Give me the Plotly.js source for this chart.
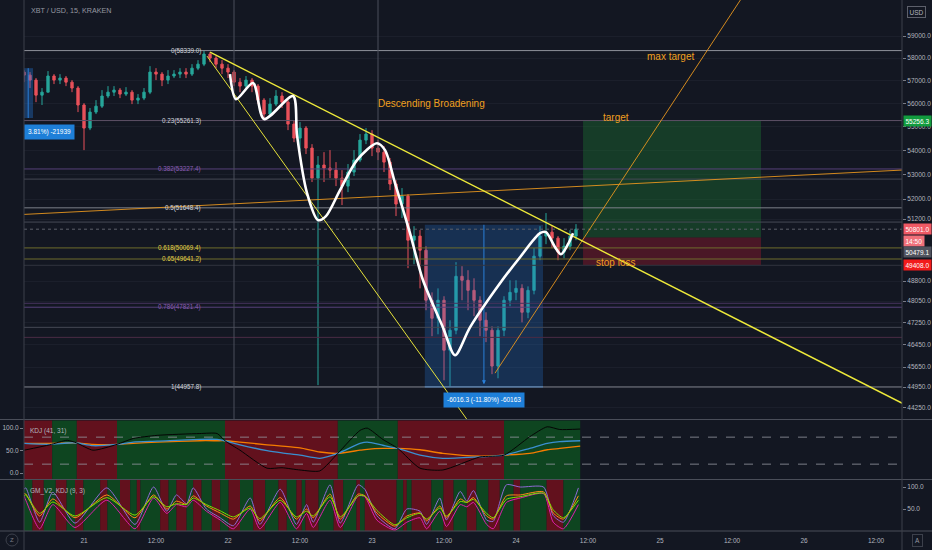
<!DOCTYPE html>
<html><head><meta charset="utf-8">
<script src="https://cdn.plot.ly/plotly-3.0.1.min.js"></script>
<style>html,body{margin:0;padding:0;background:#131722;overflow:hidden}#chart{width:932px;height:550px}</style>
</head><body><div id="chart"></div>
<script>
// ================= DATA =================
// hourly candles, hour offsets relative to Feb 21 00:00 (first candle Feb 20 14:00)
const candleStartHour = -10;
const candleOpen = [57375,57240,57020,56360,56490,57200,57020,57110,56930,56670,
 55930,54940,55625,55880,56320,56490,56580,56405,56490,56143,
 56230,56490,57375,57285,57020,57200,57285,57375,57285,57550,
 57730,58180,58000,57730,57550,57375,56930,56755,57020,56755,
 56143,55540,55970,56320,56055,55110,54515,54940,54095,52850,
 53390,53265,53180,52850,52525,53100,53595,54430,54685,54095,
 53925,53510,52610,51800,52120,50370,50530,49980,48080,47415,
 48080,46255,46975,48980,48830,48450,48080,47340,46975,45690,
 46975,48080,48375,48525,47635,48450,49750,50530,50685,50450,
 49905,50135,50530];
const candleHigh = [57463,57375,57110,56670,57420,57285,57285,57200,57020,56755,
 56010,55800,56143,56580,56755,56755,56670,56710,56580,56405,
 56670,57640,57550,57375,57463,57463,57550,57550,57730,57910,
 58339,58270,58090,57910,57730,57463,57110,57200,57110,56845,
 56230,56230,56580,56490,56143,55280,55195,55025,54260,53760,
 53925,54010,53510,53180,53430,54010,54685,54940,54850,54430,
 54180,53680,52770,52445,52200,50920,50765,50135,48375,48525,
 48230,47340,49520,49365,49212,48905,48230,47635,47120,47120,
 48230,48830,48830,48680,48600,50060,50920,51440,50920,50530,
 50450,50765,51000];
const candleLow = [56930,56670,56055,55930,56490,56845,56845,56755,56490,55625,
 54010,54853,55540,55800,56230,56320,56230,56320,55970,55970,
 56143,56405,57020,56755,56845,57110,57110,57110,57200,57463,
 57640,57820,57550,57285,57110,56755,56490,56580,56490,55970,
 55370,55450,55880,55800,54853,54345,54010,53845,52690,45020,
 52690,52850,52525,51760,52280,52935,53510,54260,53760,53595,
 53100,52363,51320,51240,49290,49440,48525,47710,46760,46830,
 45190,44958,46830,48080,47710,47490,46760,46545,45405,45260,
 46760,47855,48080,47265,47415,48300,49595,50215,50060,49595,
 49670,49980,50370];
const candleClose = [57240,57020,56360,56490,57200,57020,57110,56930,56670,55930,
 54940,55625,55880,56320,56490,56580,56405,56490,56143,56230,
 56490,57375,57285,57020,57200,57285,57375,57285,57550,57730,
 58180,58000,57730,57550,57375,56930,56755,57020,56755,56143,
 55540,55970,56320,56055,55110,54515,54940,54095,52850,53390,
 53265,53180,52850,52525,53100,53595,54430,54685,54095,53925,
 53510,52610,51800,52120,50370,50530,49980,48080,47415,48080,
 46255,46975,48980,48830,48450,48080,47340,46975,45690,46975,
 48080,48375,48525,47635,48450,49750,50530,50685,50450,49905,
 50135,50530,50801];
const candleHours = candleOpen.map((_, i) => candleStartHour + i);

// time axis
const timeTickHours  = [0, 12, 24, 36, 48, 60, 72, 84, 96, 108, 120, 132];
const timeTickLabels = ['21','12:00','22','12:00','23','12:00','24','12:00','25','12:00','26','12:00'];

// price axis
const priceTickVals = [59000,58000,57000,56000,55000,54000,53000,52000,51200,48800,48050,47250,46450,45650,44950,44250];

// fibonacci retracement
const fibRatios = ['0','0.23','0.382','0.5','0.618','0.65','0.786','1'];
const fibPrices = [58339.0, 55261.3, 53227.4, 51648.4, 50069.4, 49641.2, 47821.4, 44957.8];

// other horizontal levels drawn on the chart
const extraLevelPrices = [52811, 51082, 50801.0, 49400, 47967, 47082, 46718];

// trend lines [hourStart, hourEnd], [priceStart, priceEnd]
const upperWedgeHours = [21, 136.5],    upperWedgePrices = [58270, 44380];
const lowerWedgeHours = [20.5, 64.67],  lowerWedgePrices = [58090, 43600];
const flatOrangeHours = [-10.5, 137],   flatOrangePrices = [51380, 53190];
const riseOrangeHours = [68.5, 110],    riseOrangePrices = [45440, 60930];

// hand-drawn white path
const curveHours  = [24.33,25.33,28.17,30,34.83,35.5,37.17,39,40.33,42.67,45.5,48.83,50.17,51.83,54.33,56.5,59.83,61.83,64.33,69.33,72.67,76,77,78.5,79.5,80.67,81.5];
const curvePrices = [57285,56185,56890,55325,56320,54640,52240,51160,51320,52363,53595,54300,54010,52650,50645,48830,47080,46075,47080,48715,49710,50645,50685,50100,49825,50215,50645];

// long position tool
const positionHours = [83.17, 112.83];
const targetPrice = 55256.3, entryPrice = 50479.1, stopPrice = 49408.0, lastPrice = 50801.0;

// measure tool
const measureHours = [56.8, 76.5];
const measureTop = 50974.1, measureBottom = 44957.8;
const measureText = '-6016.3 (-11.80%) -60163';
const leftMeasureHours = [-10.5, -8.5], leftMeasurePrices = [55370, 57550];
const leftMeasureText = '3.81%) -21939';

// vertical marker lines (hours)
const vLineHours = [25, 49];

// KDJ (41, 31)
const kdjHours = [-10,-5.7,-2.8,-1.2,1.5,5.5,8.2,12.2,19.3,22.2,23.5,26,30.5,33,36,39.3,42.3,46,47.2,49.8,52.3,56,59.8,66,70,74.3,77.2,79.3,82.7];
const kdjK = [66,64,67,67,61,64,69,71,75,75,72,63,50,45,40,33,44,66,69,62,55,40,33,36,40,55,66,70,72];
const kdjD = [66,66,67,67,64,64,66,69,72,72,72,69,63,60,56,47,44,51,53,55,55,52,44,38,40,44,52,55,60];
const kdjJ = [51,63,73,67,51,64,77,84,88,88,72,51,11,12,7,5,44,95,100,75,55,11,7,36,40,81,103,97,98];
const kdjBandEdges = [-10.5,-5.3,-1.2,5.5,23.5,42.3,52.3,70,82.7];
const kdjBandFirst = 'red';

// GM_V2_KDJ (9, 3)
const gmHours = [-10,-9.7,-7.4,-5.2,-1.5,3.8,8.5,11.6,13.8,15.4,17.1,18.2,20.4,22.7,24.9,27.7,29.3,32.7,35.4,37.1,38.2,41,42.7,45.7,46.8,48.8,51.8,53.8,56,57.1,59.3,60.4,62.7,63.8,64.9,67.1,68.2,70.4,72.7,76.6,78.2,79.9,82.4];
const gmOrange = [85,84,34,73,30,82,30,82,50,68,61,80,57,41,27,57,23,76,27,50,30,84,27,84,80,41,11,34,41,23,57,30,73,65,76,34,27,80,82,89,41,27,80];
const gmGreen  = [80,82,40,66,34,76,36,78,55,62,60,75,60,46,32,52,28,70,32,45,34,78,32,80,80,47,14,30,40,27,52,34,67,65,72,40,30,72,78,86,48,30,70];
const gmPurple = [95,98,20,88,18,98,15,100,45,82,62,98,50,30,12,75,15,95,15,60,20,105,18,105,95,35,5,50,45,15,75,25,90,68,92,25,22,105,100,100,35,20,98];
const gmMagenta= [80,70,5,60,8,70,5,75,40,60,55,70,45,25,5,50,5,65,5,40,8,70,8,80,78,25,2,20,30,5,45,10,60,55,65,15,5,65,75,85,20,5,60];
const gmBandEdges = [-10.5,-8.6,-6.7,-4.7,-2.9,-1.5,-0.1,2.7,3.9,6,7.7,8.8,9.4,12.7,14.1,15.4,17.1,18.2,19.6,21.3,22.7,24.1,26,28.2,30.2,32.4,33.8,35.4,36.3,36.9,39.1,41.6,43.2,45.4,46,46.8,52.1,53.2,53.8,54.6,57.9,59.9,61.6,63.8,65.4,67.4,69.3,71.6,72.7,77.1,79.9,82.7];
const gmBandFirst = 'green';

// ================= STYLE / LAYOUT =================
const BG = '#131722', TXT = '#b2b5be', FONT = 'Liberation Sans, Arial, sans-serif';
const RED_BAND = '#62111d', GREEN_BAND = '#0e4520';
const fibColors = ['#d1d4dc','#d1d4dc','#8a5db3','#d1d4dc','#e3d24a','#e3d24a','#8a5db3','#d1d4dc'];
const fibLineColors = ['#8f929b','#5e5066','#56407a','#7d808a','#6e6d2c','#6e6d2c','#56407a','#7d808a'];
const extraLevelColors = ['#454955','#454955','#5d606b','#31343f','#47345e','#454955','#4b2c45'];
const X_RANGE = [-10, 136.33];
const Y_RANGE = [Math.log10(43838), Math.log10(60670)];
const yMinP = 43838, yMaxP = 60670;
// pixel -> paper helpers for layout placement
const L = 24, R = 902, B = 531;
const pX = px => (px - L) / (R - L);
const pY = py => (B - py) / B;
const lg = v => Math.log10(v);

const traces = [];
function line(x, y, color, width, extra) {
  traces.push(Object.assign({type:'scatter', mode:'lines', x, y, xaxis:'x', yaxis:'y',
    line:{color, width}, hoverinfo:'skip', showlegend:false}, extra || {}));
}
function rect(x0, x1, y0, y1, fill, yaxis) {
  traces.push({type:'scatter', mode:'lines', x:[x0,x1,x1,x0,x0], y:[y0,y0,y1,y1,y0],
    xaxis:'x', yaxis:yaxis||'y', fill:'toself', fillcolor:fill, line:{width:0},
    hoverinfo:'skip', showlegend:false});
}

// position tool boxes
rect(positionHours[0], positionHours[1], entryPrice, targetPrice, 'rgba(30,120,50,0.38)');
rect(positionHours[0], positionHours[1], stopPrice, entryPrice, 'rgba(150,25,45,0.42)');
// measure boxes
rect(measureHours[0], measureHours[1], measureBottom, measureTop, 'rgba(33,120,220,0.26)');
line([measureHours[0], measureHours[1]], [measureBottom, measureBottom], '#2a7fd8', 1.2);
line([(measureHours[0]+measureHours[1])/2, (measureHours[0]+measureHours[1])/2], [measureTop, measureBottom*1.003], '#2a7fd8', 1);
rect(leftMeasureHours[0], leftMeasureHours[1], leftMeasurePrices[0], leftMeasurePrices[1], 'rgba(33,120,220,0.35)');
line([-9.3,-9.3], leftMeasurePrices, '#2a7fd8', 1);
// horizontal levels
fibPrices.forEach((p, i) => line([-11, 140], [p, p], fibLineColors[i], 1));
extraLevelPrices.forEach((p, i) => line([-11, 140], [p, p], extraLevelColors[i], 1, i === 2 ? {line:{color:extraLevelColors[i], width:1, dash:'dot'}} : {}));
// vertical lines
vLineHours.forEach(h => line([h, h], [yMinP, yMaxP], '#4a4f5b', 1));

// candles
traces.push({type:'candlestick', x:candleHours, open:candleOpen, high:candleHigh, low:candleLow, close:candleClose,
  xaxis:'x', yaxis:'y', whiskerwidth:0, hoverinfo:'skip', showlegend:false,
  increasing:{line:{color:'#26a69a', width:1}, fillcolor:'#26a69a'},
  decreasing:{line:{color:'#e9515a', width:1}, fillcolor:'#e9515a'}});

// trend lines
line(flatOrangeHours, flatOrangePrices, '#e8961e', 0.9);
line(riseOrangeHours, riseOrangePrices, '#e8961e', 0.9);
line(upperWedgeHours, upperWedgePrices, '#eeea3a', 1.4);
line(lowerWedgeHours, lowerWedgePrices, '#e6e23a', 1);
line(curveHours, curvePrices, '#ffffff', 2.6, {line:{color:'#ffffff', width:2.6, shape:'spline', smoothing:0.8}});

// KDJ
const sub = (x, y, color, axis, w) => traces.push({type:'scatter', mode:'lines', x, y, xaxis:'x', yaxis:axis,
  line:{color, width:w||1, shape:'spline', smoothing:0.6}, hoverinfo:'skip', showlegend:false});
sub(kdjHours, kdjD, '#f57c00', 'y2', 1.3);
sub(kdjHours, kdjK, '#3a8fd0', 'y2', 1.3);
sub(kdjHours, kdjJ, '#050505', 'y2', 1);
// GM
sub(gmHours, gmPurple, '#8f6ad6', 'y3');
sub(gmHours, gmMagenta, '#e01fae', 'y3');
sub(gmHours, gmOrange, '#ff8a1c', 'y3');
sub(gmHours, gmGreen, '#7ee000', 'y3');

// shapes
const shapes = [];
function bands(edges, first, yref) {
  for (let i = 0; i < edges.length - 1; i++) {
    const isRed = (i % 2 === 0) === (first === 'red');
    shapes.push({type:'rect', xref:'x', yref, x0:edges[i], x1:edges[i+1], y0:0, y1:1,
      fillcolor:isRed ? RED_BAND : GREEN_BAND, line:{width:0}, layer:'below'});
  }
}
bands(kdjBandEdges, kdjBandFirst, 'y2 domain');
bands(gmBandEdges, gmBandFirst, 'y3 domain');
[80, 20].forEach(v => shapes.push({type:'line', xref:'paper', yref:'y2', x0:0, x1:1, y0:v, y1:v,
  line:{color:'#9598a1', width:0.8, dash:'dash'}, layer:'between'}));
// panel separators & frame
[419.5, 479.5, 531].forEach(py => shapes.push({type:'line', xref:'paper', yref:'paper', x0:pX(0), x1:pX(932), y0:pY(py), y1:pY(py),
  line:{color:'#4a4e59', width:1}}));
[L, R].forEach(px => shapes.push({type:'line', xref:'paper', yref:'paper', x0:pX(px), x1:pX(px), y0:pY(550), y1:pY(0),
  line:{color:'#3c404b', width:1}}));
shapes.push({type:'circle', xref:'paper', yref:'paper', x0:pX(6), x1:pX(18), y0:pY(546), y1:pY(534), line:{color:'#3c404b', width:1}});

// annotations
const ann = [];
const txt = (o) => ann.push(Object.assign({showarrow:false, font:{family:FONT, size:6.5, color:TXT}}, o));
txt({xref:'paper', yref:'paper', x:pX(29), y:pY(11), xanchor:'left', yanchor:'middle', text:'XBT / USD, 15, KRAKEN', font:{family:FONT, size:7.2, color:'#9598a1'}});
fibRatios.forEach((r, i) => txt({xref:'x', yref:'y', x:19.8, y:lg(fibPrices[i]), xanchor:'right', yanchor:'middle',
  text:r + '(' + fibPrices[i].toFixed(1) + ')', font:{family:FONT, size:6.3, color:fibColors[i]}}));
const orangeFont = {family:FONT, size:10, color:'#f0a020'};
txt({xref:'x', yref:'y', x:48.67, y:lg(56010), xanchor:'left', yanchor:'middle', text:'Descending Broadening', font:orangeFont});
txt({xref:'x', yref:'y', x:93.5, y:lg(58090), xanchor:'left', yanchor:'middle', text:'max target', font:orangeFont});
txt({xref:'x', yref:'y', x:86.2, y:lg(55410), xanchor:'left', yanchor:'middle', text:'target', font:orangeFont});
txt({xref:'x', yref:'y', x:85, y:lg(49520), xanchor:'left', yanchor:'middle', text:'stop loss', font:orangeFont});
// measure labels
txt({xref:'x', yref:'paper', x:(measureHours[0]+measureHours[1])/2, y:pY(400), xanchor:'center', yanchor:'middle',
  text:measureText, bgcolor:'#1e7fd8', borderpad:3, font:{family:FONT, size:6.5, color:'#ffffff'}});
txt({xref:'paper', yref:'paper', x:pX(24), y:pY(132), xanchor:'left', yanchor:'middle',
  text:leftMeasureText, bgcolor:'#1e7fd8', borderpad:3, font:{family:FONT, size:6.5, color:'#ffffff'}});
ann.push({xref:'x', yref:'y', x:(measureHours[0]+measureHours[1])/2, y:lg(measureBottom*1.002), ax:0, ay:-6,
  showarrow:true, arrowhead:2, arrowsize:0.8, arrowwidth:1, arrowcolor:'#2a7fd8', text:''});
// indicator titles
txt({xref:'paper', yref:'paper', x:pX(28), y:pY(431), xanchor:'left', yanchor:'middle', text:'KDJ (41, 31)'});
txt({xref:'paper', yref:'paper', x:pX(28), y:pY(491), xanchor:'left', yanchor:'middle', text:'GM_V2_KDJ (9, 3)'});
// right axis price boxes
const box = (py, text, bg) => txt({xref:'paper', yref:'paper', x:pX(903), y:pY(py), xanchor:'left', yanchor:'middle',
  text, bgcolor:bg, borderpad:1.5, font:{family:FONT, size:6.5, color:'#ffffff'}});
box(120.6, targetPrice.toFixed(1), '#129c3e');
box(229, lastPrice.toFixed(1), '#ef5964');
box(241, '14:50', '#f0707a');
box(252, entryPrice.toFixed(1), '#50535e');
box(265, stopPrice.toFixed(1), '#f21b1b');
txt({xref:'paper', yref:'paper', x:pX(916), y:pY(12), xanchor:'center', yanchor:'middle', text:'USD',
  bgcolor:BG, bordercolor:'#5d606b', borderwidth:1, borderpad:1.5, font:{family:FONT, size:6.5, color:TXT}});
txt({xref:'paper', yref:'paper', x:pX(12), y:pY(540), xanchor:'center', yanchor:'middle', text:'Z', font:{family:FONT, size:6, color:'#787b86'}});
txt({xref:'paper', yref:'paper', x:pX(917), y:pY(540), xanchor:'center', yanchor:'middle', text:'A',
  bordercolor:'#3c404b', borderwidth:1, borderpad:2, font:{family:FONT, size:6.5, color:'#9598a1'}});

const tickFont = {family:FONT, size:6.5, color:TXT};
const layout = {
  width:932, height:550, margin:{l:L, r:932-R, t:0, b:550-B},
  paper_bgcolor:BG, plot_bgcolor:BG, showlegend:false, hovermode:false, dragmode:false,
  boxgap:0.45,
  xaxis:{range:X_RANGE, anchor:'y3', showgrid:false, zeroline:false, showline:false,
    tickvals:timeTickHours, ticktext:timeTickLabels, ticks:'', tickfont:tickFont, ticklabelstandoff:4,
    rangeslider:{visible:false}, fixedrange:true},
  yaxis:{type:'log', range:Y_RANGE, domain:[pY(419.5), 1], anchor:'x', side:'right',
    tickvals:priceTickVals, ticktext:priceTickVals.map(v => v.toFixed(1)), tickfont:tickFont,
    ticks:'outside', ticklen:3, tickcolor:'#787b86', showgrid:true, gridcolor:'#1b1f2b', gridwidth:1,
    zeroline:false, showline:false, fixedrange:true},
  yaxis2:{range:[-13, 117], domain:[pY(479), pY(420.5)], anchor:'x', side:'left',
    tickvals:[0,50,100], ticktext:['0.0','50.0','100.0'], tickfont:tickFont, ticks:'outside', ticklen:3, tickcolor:'#787b86',
    showgrid:false, zeroline:false, showline:false, fixedrange:true},
  yaxis3:{range:[0, 116], domain:[0, pY(480)], anchor:'x', side:'right',
    tickvals:[50,100], ticktext:['50.0','100.0'], tickfont:tickFont, ticks:'outside', ticklen:3, tickcolor:'#787b86',
    showgrid:false, zeroline:false, showline:false, fixedrange:true},
  shapes, annotations:ann
};
Plotly.newPlot('chart', traces, layout, {staticPlot:true, displayModeBar:false});
</script></body></html>
